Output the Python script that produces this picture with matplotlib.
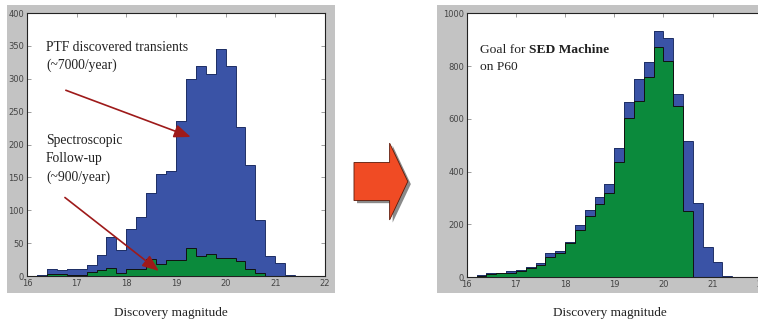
import matplotlib
matplotlib.use("Agg")
import matplotlib.pyplot as plt
from matplotlib.patches import Rectangle, FancyArrow
import numpy as np

# bins of 0.2 mag starting at 16.0
bin_start = 16.0
bin_width = 0.2

# left panel: PTF discovered transients and spectroscopic follow-up
ptf_counts = [0, 1, 10, 9, 10, 11, 17, 32, 59, 40, 71, 89, 127, 155, 160,
              236, 299, 320, 307, 345, 320, 226, 169, 85, 31, 20, 1, 0]
followup_counts = [0, 0, 3, 3, 1, 2, 6, 9, 12, 4, 11, 11, 26, 19, 24,
                   24, 43, 31, 33, 28, 28, 23, 11, 5, 0, 0, 0, 0]

# right panel: goal for SED Machine on P60
goal_total = [2, 8, 15, 18, 23, 28, 40, 56, 93, 100, 135, 198, 255, 306, 352,
              491, 663, 751, 817, 933, 908, 694, 518, 280, 116, 57, 4, 1]
goal_sedm = [1, 5, 12, 16, 18, 22, 35, 47, 78, 91, 129, 179, 232, 276, 320,
             436, 605, 669, 760, 874, 820, 650, 252, 0, 0, 0, 0, 0]

left_yticks = [0, 50, 100, 150, 200, 250, 300, 350, 400]
right_yticks = [0, 200, 400, 600, 800, 1000]
xticks = [16, 17, 18, 19, 20, 21, 22]

blue = "#3a53a6"
green = "#0b8a3c"
frame_gray = "#c3c3c3"
serif = ["Liberation Serif", "DejaVu Serif"]

fig = plt.figure(figsize=(7.58, 3.23), dpi=100)

# gray frames behind each panel
fig.patches.append(Rectangle((0.009, 0.093), 0.433, 0.892, transform=fig.transFigure,
                             facecolor=frame_gray, edgecolor="none", zorder=-5))
fig.patches.append(Rectangle((0.576, 0.093), 0.45, 0.892, transform=fig.transFigure,
                             facecolor=frame_gray, edgecolor="none", zorder=-5))


def draw_hist(ax, back, front, ymax, yticks):
    edges = bin_start + bin_width * np.arange(len(back) + 1)
    ax.stairs(back, edges, fill=True, color=blue, zorder=2)
    ax.stairs(back, edges, color="#1f2f66", lw=0.7, zorder=2)
    ax.stairs(front, edges, fill=True, color=green, zorder=3)
    ax.stairs(front, edges, color="#111111", lw=0.7, zorder=3)
    ax.set_xlim(16, 22)
    ax.set_ylim(0, ymax)
    ax.set_xticks(xticks)
    ax.set_yticks(yticks)
    ax.tick_params(direction="in", top=True, right=True, length=3, width=0.5,
                   labelsize=6, labelcolor="#444444", color="#777777", pad=2)
    for s in ax.spines.values():
        s.set_linewidth(0.8)
        s.set_color("#222222")


ax1 = fig.add_axes([0.0356, 0.1455, 0.3931, 0.8142])
draw_hist(ax1, ptf_counts, followup_counts, 400, left_yticks)

ax2 = fig.add_axes([0.6157, 0.1415, 0.3892, 0.8173])
draw_hist(ax2, goal_total, goal_sedm, 1000, right_yticks)

fig.text(0.225, 0.03, "Discovery magnitude", family=serif, fontsize=9.5,
         ha="center", va="center", color="#222222")
fig.text(0.805, 0.03, "Discovery magnitude", family=serif, fontsize=9.5,
         ha="center", va="center", color="#222222")

# annotations on the left panel
ax1.text(0.064, 0.895, "PTF discovered transients\n(~7000/year)",
         transform=ax1.transAxes, family=serif, fontsize=9.8, va="top",
         linespacing=1.45, color="#222222")
ax1.text(0.064, 0.54, "Spectroscopic\nFollow-up\n(~900/year)",
         transform=ax1.transAxes, family=serif, fontsize=9.8, va="top",
         linespacing=1.5, color="#222222")
arrow_red = "#9e1a1a"
ax1.annotate("", xy=(19.35, 210), xytext=(16.73, 284),
             arrowprops=dict(arrowstyle="-|>,head_length=1.0,head_width=0.4",
                             color=arrow_red, lw=1.2))
ax1.annotate("", xy=(18.7, 5), xytext=(16.72, 122),
             arrowprops=dict(arrowstyle="-|>,head_length=1.0,head_width=0.4",
                             color=arrow_red, lw=1.2))

# annotation on the right panel
t1 = ax2.text(0.045, 0.85, "Goal for ", transform=ax2.transAxes, family=serif,
              fontsize=9.7, va="baseline", color="#222222")
ax2.annotate("SED Machine", xy=(1, 0), xycoords=t1, family=serif, fontsize=9.7,
             fontweight="bold", va="bottom", color="#222222")
ax2.text(0.045, 0.785, "on P60", transform=ax2.transAxes, family=serif,
         fontsize=9.7, va="baseline", color="#222222")

# big arrow between panels, with a shadow
fig.patches.append(FancyArrow(0.471, 0.430, 0.047, 0.0, width=0.118,
                              head_width=0.238, head_length=0.024,
                              length_includes_head=False, transform=fig.transFigure,
                              facecolor="#8a8a8a", edgecolor="none", zorder=1))
fig.patches.append(FancyArrow(0.467, 0.438, 0.047, 0.0, width=0.118,
                              head_width=0.238, head_length=0.024,
                              length_includes_head=False, transform=fig.transFigure,
                              facecolor="#f04b24", edgecolor="#5a1a0a", lw=0.6, zorder=2))

fig.savefig("out.png", dpi=100)
